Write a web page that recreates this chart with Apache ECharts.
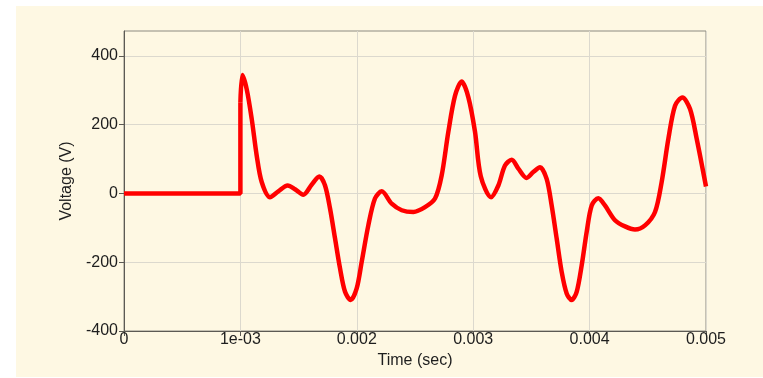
<!DOCTYPE html>
<html>
<head>
<meta charset="utf-8">
<script src="https://cdn.jsdelivr.net/npm/echarts@6/dist/echarts.min.js"></script>
<style>
html,body{margin:0;padding:0;background:#ffffff;}
#c{width:763px;height:378px;}
</style>
</head>
<body>
<div id="c"></div>
<script>
// Time (sec) and voltage (V)
const stepTime = [0, 0.001, 0.001];
const stepVolt = [0, 0, 265];
const waveTime = [0.001, 0.001017, 0.001054, 0.001097, 0.00114, 0.001183, 0.001254, 0.001326, 0.001406, 0.001469,
  0.00154, 0.001612, 0.001678, 0.001727, 0.00177, 0.001813, 0.001856, 0.001899, 0.001947, 0.001999,
  0.002042, 0.002099, 0.002156, 0.002214, 0.0023, 0.002386, 0.002486, 0.002586, 0.002672, 0.002729,
  0.002786, 0.002844, 0.002901, 0.002958, 0.003015, 0.003065, 0.003153, 0.003216, 0.003273, 0.003331,
  0.003388, 0.003459, 0.003516, 0.003574, 0.003631, 0.003674, 0.003717, 0.00376, 0.003803, 0.003846,
  0.003889, 0.003932, 0.003975, 0.004018, 0.004075, 0.004132, 0.004218, 0.004304, 0.00439, 0.004476,
  0.004562, 0.004619, 0.004677, 0.004734, 0.004797, 0.004863, 0.00492, 0.005];
const waveVolt = [265, 344, 303, 217, 110, 33, -11, 6, 23, 12,
  -4, 25, 49, 23, -44, -131, -218, -286, -310, -276,
  -199, -93, -15, 6, -30, -49, -54, -40, -15, 52,
  178, 284, 325, 280, 180, 50, -11, 23, 81, 98,
  72, 45, 62, 76, 42, -35, -131, -228, -291, -310,
  -286, -209, -112, -35, -14, -35, -78, -96, -105, -93,
  -54, 33, 159, 255, 279, 245, 159, 20];
const xTickLabels = ['0', '1e-03', '0.002', '0.003', '0.004', '0.005'];
const yTicks = [-400, -200, 0, 200, 400];

const chart = echarts.init(document.getElementById('c'));
const font = 'Liberation Sans, Arial, sans-serif';
const txt = '#1e1e1e';
chart.setOption({
  animation: false,
  backgroundColor: '#ffffff',
  graphic: [{type: 'rect', z: -10, shape: {x: 16, y: 6, width: 747, height: 371}, style: {fill: '#fef8e3'}}],
  grid: {left: 124, right: 57, top: 31, bottom: 47, show: true, borderColor: '#8c8a80', borderWidth: 1, backgroundColor: 'transparent'},
  xAxis: {
    type: 'value', min: 0, max: 0.005, interval: 0.001,
    name: 'Time (sec)', nameLocation: 'middle', nameGap: 21,
    nameTextStyle: {color: txt, fontSize: 16, fontFamily: font},
    axisLine: {show: true, onZero: false, lineStyle: {color: '#5c5a54', width: 1}},
    axisTick: {show: true, length: 5, lineStyle: {color: '#5c5a54'}},
    axisLabel: {color: txt, fontSize: 16, fontFamily: font, margin: 1,
      formatter: v => xTickLabels[Math.round(v / 0.001)]},
    splitLine: {show: true, lineStyle: {color: '#dcd9ce', width: 1}}
  },
  yAxis: {
    type: 'value', min: -400, max: 472,
    name: 'Voltage (V)', nameLocation: 'middle', nameGap: 43,
    nameTextStyle: {color: txt, fontSize: 16, fontFamily: font},
    axisLine: {show: true, lineStyle: {color: '#5c5a54', width: 1}},
    axisTick: {show: true, length: 5, lineStyle: {color: '#5c5a54'},
      customValues: yTicks},
    axisLabel: {color: txt, fontSize: 16, fontFamily: font, margin: 6,
      customValues: yTicks},
    splitLine: {show: true, lineStyle: {color: '#dcd9ce', width: 1}}
  },
  series: [
    {type: 'line', data: stepTime.map((t, i) => [t, stepVolt[i]]), showSymbol: false,
      lineStyle: {color: '#ff0000', width: 4.5}, z: 5},
    {type: 'line', data: waveTime.map((t, i) => [t, waveVolt[i]]), showSymbol: false, smooth: 0.3,
      lineStyle: {color: '#ff0000', width: 4.5}, z: 5}
  ]
});
</script>
</body>
</html>
